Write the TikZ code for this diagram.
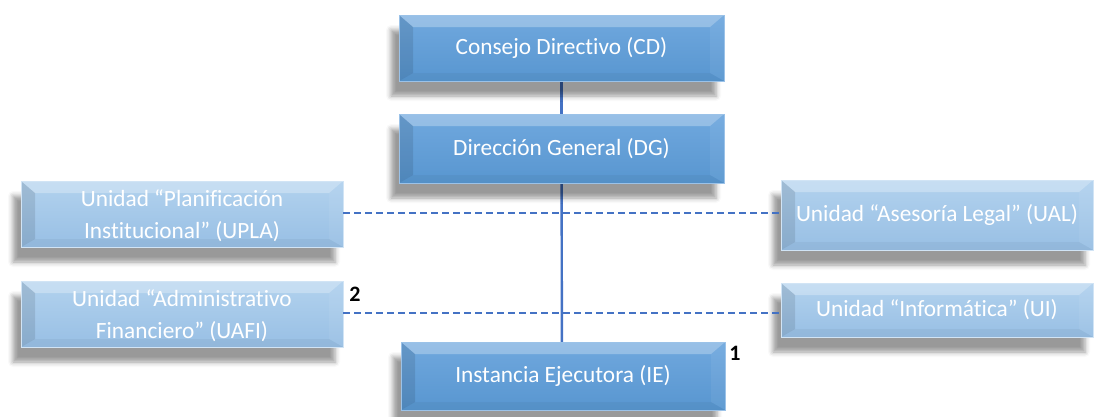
\documentclass[tikz,border=0pt]{standalone}
\usepackage{fontspec}
\setmainfont{Carlito}[Ligatures=NoCommon]
\usepackage{tikz}
\usetikzlibrary{shadows.blur}
\definecolor{mainblue}{RGB}{88,150,208}
\definecolor{maintop}{RGB}{112,168,222}
\definecolor{unitblue}{RGB}{152,191,228}
\definecolor{unittop}{RGB}{178,210,238}
\definecolor{linkblue}{RGB}{68,114,196}
\tikzset{
  bevel/.style={path picture={
    \fill[white,opacity=.28] (path picture bounding box.north west) -- (path picture bounding box.north east)
      -- ([xshift=-14pt,yshift=-12pt]path picture bounding box.north east) -- ([xshift=14pt,yshift=-12pt]path picture bounding box.north west) -- cycle;
    \fill[black,opacity=.10] (path picture bounding box.north west) -- ([xshift=14pt,yshift=-12pt]path picture bounding box.north west)
      -- ([xshift=14pt,yshift=8pt]path picture bounding box.south west) -- (path picture bounding box.south west) -- cycle;
    \fill[white,opacity=.06] (path picture bounding box.north east) -- ([xshift=-14pt,yshift=-12pt]path picture bounding box.north east)
      -- ([xshift=-14pt,yshift=8pt]path picture bounding box.south east) -- (path picture bounding box.south east) -- cycle;
    \fill[black,opacity=.04] (path picture bounding box.south west) -- ([xshift=14pt,yshift=8pt]path picture bounding box.south west)
      -- ([xshift=-14pt,yshift=8pt]path picture bounding box.south east) -- (path picture bounding box.south east) -- cycle;
  }},
  box/.style={rectangle, bevel, text=white, align=center, inner sep=0pt,
    font=\fontsize{23.3}{32}\selectfont,
    blur shadow={shadow xshift=-8pt, shadow yshift=-15pt, shadow blur radius=5pt, shadow opacity=40}},
  mainbox/.style={box, top color=maintop, bottom color=mainblue, draw=maintop!70!white, line width=.6pt},
  unitbox/.style={box, top color=unittop, bottom color=unitblue, draw=unittop!60!white, line width=.6pt},
  solidlink/.style={linkblue, line width=2.4pt},
  dashlink/.style={linkblue, line width=2.4pt, dash pattern=on 7pt off 4pt},
  numlabel/.style={font=\fontsize{22}{22}\bfseries\selectfont, text=black}
}
\begin{document}
\begin{tikzpicture}[x=1pt,y=1pt]
\useasboundingbox (0,0) rectangle (1094,-416);
% lines first, boxes on top
\coordinate (cdpos) at (561.5,-48);
\coordinate (dgpos) at (561.5,-148.5);
\coordinate (iepos) at (563,-376);
\draw[solidlink] (cdpos) -- (dgpos);
\draw[solidlink] (dgpos) -- (562,-376);
% units
\node[unitbox, minimum width=322pt, minimum height=66pt, text depth=-3pt] (upla) at (182,-214) {Unidad “Planificación\\Institucional” (UPLA)};
\node[unitbox, minimum width=322pt, minimum height=66pt, text depth=-3pt] (uafi) at (182,-314) {Unidad “Administrativo\\Financiero” (UAFI)};
\node[unitbox, minimum width=312pt, minimum height=70pt] (ual) at (937,-215) {Unidad “Asesoría Legal” (UAL)};
\node[unitbox, minimum width=312pt, minimum height=54pt] (ui) at (937,-310) {Unidad “Informática” (UI)};
\draw[dashlink] ([yshift=1pt]upla.east) -- ([yshift=1pt]upla.east -| ual.west);
\draw[dashlink] ([yshift=1pt]uafi.east) -- ([yshift=1pt]uafi.east -| ui.west);
% main line
\node[mainbox, minimum width=325pt, minimum height=66pt] (cd) at (cdpos) {Consejo Directivo (CD)};
\node[mainbox, minimum width=325pt, minimum height=69pt] (dg) at (dgpos) {Dirección General (DG)};
\node[mainbox, minimum width=324pt, minimum height=68pt] (ie) at (iepos) {Instancia Ejecutora (IE)};
% numbers
\node[numlabel] (n2) at (355,-294) {2};
\node[numlabel] (n1) at (735,-353) {1};
\end{tikzpicture}
\end{document}
